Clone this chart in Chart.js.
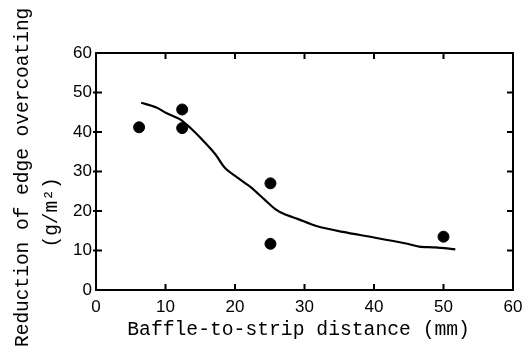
<!DOCTYPE html>
<html>
<head>
<meta charset="utf-8">
<script src="https://cdn.jsdelivr.net/npm/chart.js@4.4.0/dist/chart.umd.min.js"></script>
<style>
  html, body { margin: 0; padding: 0; background: #fff; }
  #wrap { width: 532px; height: 351px; position: relative; }
</style>
</head>
<body>
<div id="wrap"><canvas id="chart"></canvas></div>
<script>
// measured points
const pointX = [6.2, 12.4, 12.4, 25.1, 25.1, 50];
const pointY = [41.2, 45.7, 41, 27, 11.7, 13.5];

// fitted curve
const curveX = [6.5, 8.7, 10.1, 12.1, 13.6, 15.7, 17.2, 18.6, 20.3, 22.3, 24.3, 25.8, 27, 29, 31.7, 35.5, 40, 44.8, 46.5, 48.8, 51.7];
const curveY = [47.4, 46.2, 44.8, 43.2, 41, 37.3, 34.3, 30.8, 28.5, 26, 22.8, 20.5, 19.3, 18, 16.2, 14.7, 13.3, 11.7, 11, 10.8, 10.3];

const xTicks = [0, 10, 20, 30, 40, 50, 60];
const yTicks = [0, 10, 20, 30, 40, 50, 60];

const xTitle = "Baffle-to-strip distance (mm) ";
const yTitle = ["Reduction of edge overcoating ", "(g/m\u00b2)       "];

const toXY = (xs, ys) => xs.map((x, i) => ({ x: x, y: ys[i] }));

// box around the plot with inward ticks on every side
const frame = {
  id: "frame",
  afterDraw(chart) {
    const { ctx, chartArea: a, scales } = chart;
    ctx.save();
    ctx.strokeStyle = "#000";
    ctx.lineWidth = 2;
    ctx.strokeRect(a.left, a.top, a.right - a.left, a.bottom - a.top);
    const len = 6;
    ctx.beginPath();
    scales.x.ticks.forEach((t) => {
      if (t.value === 0 || t.value === 60) return;
      const px = scales.x.getPixelForValue(t.value);
      ctx.moveTo(px, a.bottom);
      ctx.lineTo(px, a.bottom - len);
      ctx.moveTo(px, a.top);
      ctx.lineTo(px, a.top + len);
    });
    scales.y.ticks.forEach((t) => {
      if (t.value === 0 || t.value === 60) return;
      const py = scales.y.getPixelForValue(t.value);
      ctx.moveTo(a.left - 3, py);
      ctx.lineTo(a.left + len, py);
      ctx.moveTo(a.right, py);
      ctx.lineTo(a.right - len, py);
    });
    ctx.stroke();
    ctx.restore();
  },
};

new Chart(document.getElementById("chart"), {
  type: "scatter",
  data: {
    datasets: [
      {
        label: "curve",
        data: toXY(curveX, curveY),
        showLine: true,
        borderColor: "#000",
        borderWidth: 2.2,
        pointRadius: 0,
        tension: 0.3,
      },
      {
        label: "measured",
        data: toXY(pointX, pointY),
        backgroundColor: "#000",
        borderColor: "#000",
        pointRadius: 5.5,
      },
    ],
  },
  options: {
    responsive: true,
    maintainAspectRatio: false,
    animation: false,
    layout: { padding: { top: 53, right: 19, left: 0, bottom: 0 } },
    plugins: { legend: { display: false }, tooltip: { enabled: false } },
    scales: {
      x: {
        type: "linear",
        min: 0,
        max: 60,
        afterBuildTicks: (s) => {
          s.ticks = xTicks.map((v) => ({ value: v }));
        },
        afterFit: (s) => {
          s.height = 61;
        },
        grid: { display: false, drawTicks: false },
        border: { display: false },
        ticks: {
          color: "#000",
          padding: 7,
          maxRotation: 0,
          font: { family: "Liberation Sans", size: 17 },
        },
        title: {
          display: true,
          text: xTitle,
          color: "#000",
          padding: { top: 0, bottom: 9 },
          font: { family: "Liberation Mono", size: 19.7, lineHeight: 1.2 },
        },
      },
      y: {
        type: "linear",
        min: 0,
        max: 60,
        afterBuildTicks: (s) => {
          s.ticks = yTicks.map((v) => ({ value: v }));
        },
        afterFit: (s) => {
          s.width = 96;
        },
        grid: { display: false, drawTicks: false },
        border: { display: false },
        ticks: {
          color: "#000",
          padding: 4,
          font: { family: "Liberation Sans", size: 17 },
        },
        title: {
          display: true,
          text: yTitle,
          color: "#000",
          padding: { top: 8, bottom: 0 },
          font: { family: "Liberation Mono", size: 19.5, lineHeight: 1.5 },
        },
      },
    },
  },
  plugins: [frame],
});
</script>
</body>
</html>
